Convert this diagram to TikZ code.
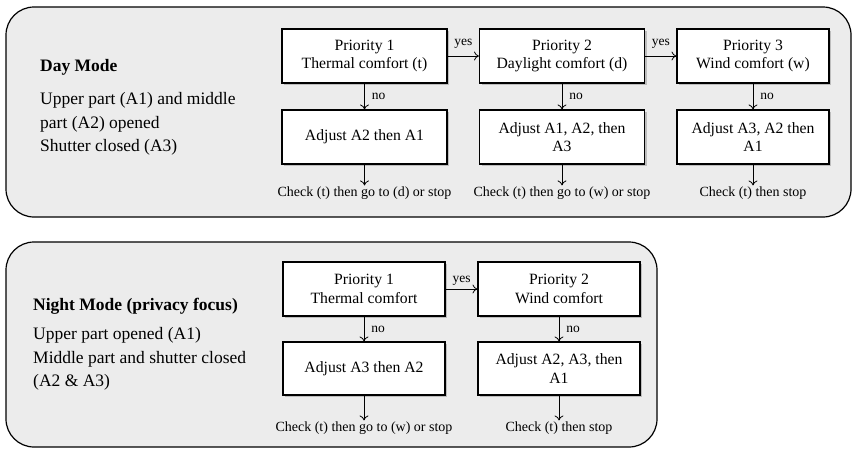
\documentclass[tikz,border=0pt]{standalone}
\usepackage{fontspec}
\setmainfont{Liberation Serif}
\usetikzlibrary{shadows,arrows.meta}
\definecolor{panelgray}{RGB}{236,236,236}
\tikzset{
  panel/.style={draw=black, line width=1.2pt, fill=panelgray, rounded corners=28pt},
  stepbox/.style={draw=black, line width=1.1pt, fill=white, align=center,
    font=\fontsize{15.7}{18.5}\selectfont, inner sep=2pt,
    drop shadow={shadow xshift=2pt, shadow yshift=-2pt, opacity=0.35, fill=black!60}},
  checktxt/.style={font=\fontsize{14}{16}\selectfont, inner sep=1pt},
  lbl/.style={font=\fontsize{13.5}{15}\selectfont, inner sep=1pt},
  arr/.style={-{To[length=5pt,width=9pt]}, line width=0.8pt},
  headtxt/.style={font=\fontsize{17.5}{21}\selectfont\bfseries, anchor=west, inner sep=0pt},
  bodytxt/.style={font=\fontsize{17.5}{23.5}\selectfont, anchor=west, align=left, inner sep=0pt}
}
\begin{document}
\begin{tikzpicture}[x=1pt,y=-1pt]
\useasboundingbox (0,0) rectangle (853,450);
% panels
\path[panel] (6,7) rectangle (851,217);
\path[panel] (6,242) rectangle (657,447);

% ---------- Day mode ----------
\node[headtxt] (dayh) at (40,67) {Day Mode};
\node[bodytxt] (dayb) at (40,124) {Upper part (A1) and middle\\part (A2) opened\\Shutter closed (A3)};

\node[stepbox, minimum width=165pt, minimum height=54pt] (dp1) at (364.5,56) {Priority 1\\Thermal comfort (t)};
\node[stepbox, minimum width=165pt, minimum height=54pt] (dp2) at (562,56) {Priority 2\\Daylight comfort (d)};
\node[stepbox, minimum width=152pt, minimum height=54pt] (dp3) at (753,56) {Priority 3\\Wind comfort (w)};

\node[stepbox, minimum width=165pt, minimum height=54pt] (da1) at (364.5,137) {Adjust A2 then A1};
\node[stepbox, minimum width=165pt, minimum height=54pt] (da2) at (562,137) {Adjust A1, A2, then\\A3};
\node[stepbox, minimum width=152pt, minimum height=54pt] (da3) at (753,137) {Adjust A3, A2 then\\A1};

\node[checktxt] (dc1) at (364.5,193) {Check (t) then go to (d) or stop};
\node[checktxt] (dc2) at (562,193) {Check (t) then go to (w) or stop};
\node[checktxt] (dc3) at (753,193) {Check (t) then stop};

\draw[arr] (dp1) -- node[lbl, above, yshift=6pt] {yes} (dp2);
\draw[arr] (dp2) -- node[lbl, above, yshift=6pt] {yes} (dp3);
\draw[arr] (dp1) -- node[lbl, right, xshift=6pt] {no} (da1);
\draw[arr] (dp2) -- node[lbl, right, xshift=6pt] {no} (da2);
\draw[arr] (dp3) -- node[lbl, right, xshift=6pt] {no} (da3);
\draw[arr] (da1) -- (dc1);
\draw[arr] (da2) -- (dc2);
\draw[arr] (da3) -- (dc3);

% ---------- Night mode ----------
\node[headtxt] (nighth) at (33,306) {Night Mode (privacy focus)};
\node[bodytxt] (nightb) at (33,359) {Upper part opened (A1)\\Middle part and shutter closed\\(A2 \& A3)};

\node[stepbox, minimum width=162pt, minimum height=54pt] (np1) at (364,289) {Priority 1\\Thermal comfort};
\node[stepbox, minimum width=162pt, minimum height=54pt] (np2) at (559,289) {Priority 2\\Wind comfort};

\node[stepbox, minimum width=162pt, minimum height=53pt] (na1) at (364,368.5) {Adjust A3 then A2};
\node[stepbox, minimum width=162pt, minimum height=53pt] (na2) at (559,368.5) {Adjust A2, A3, then\\A1};

\node[checktxt] (nc1) at (364,428) {Check (t) then go to (w) or stop};
\node[checktxt] (nc2) at (559,428) {Check (t) then stop};

\draw[arr] (np1) -- node[lbl, above, yshift=2pt] {yes} (np2);
\draw[arr] (np1) -- node[lbl, right, xshift=6pt] {no} (na1);
\draw[arr] (np2) -- node[lbl, right, xshift=6pt] {no} (na2);
\draw[arr] (na1) -- (nc1);
\draw[arr] (na2) -- (nc2);
\end{tikzpicture}
\end{document}
